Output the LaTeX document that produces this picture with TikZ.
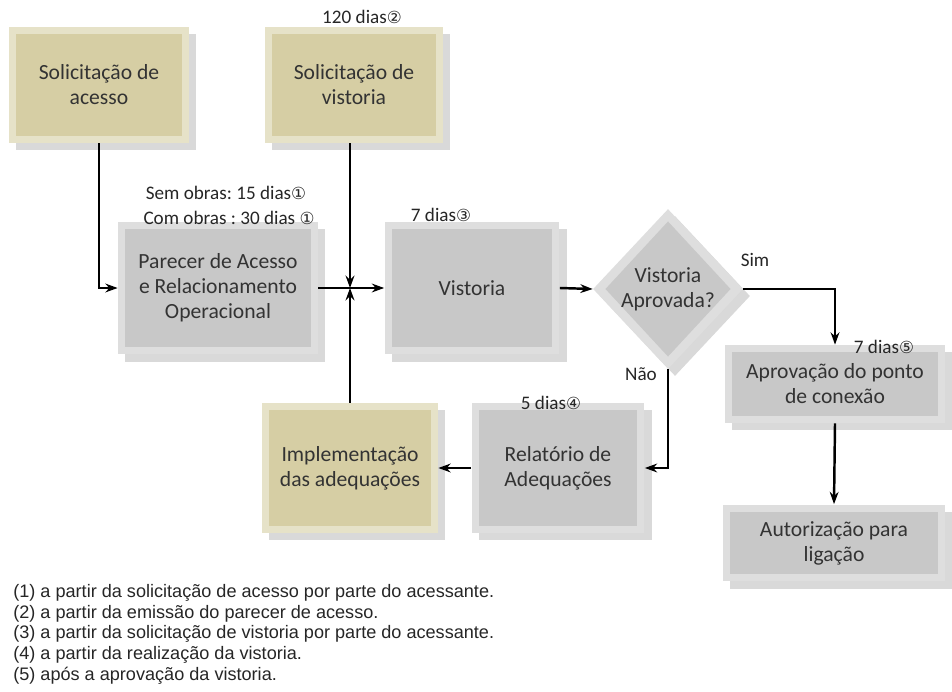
\documentclass[tikz,border=0pt]{standalone}
\usepackage{fontspec}
\setmainfont{Carlito}
\setsansfont{Liberation Sans}
\newfontfamily\symfont{DejaVu Sans}
\usetikzlibrary{shapes.geometric,shadows,arrows.meta}

\definecolor{khaki}{RGB}{214,206,164}
\definecolor{greybox}{RGB}{200,200,200}

\newcommand{\cnum}[1]{{\symfont\fontsize{9.5}{10}\selectfont #1}}

\tikzset{
  x=0.02cm, y=-0.02cm,
  stepbox/.style={fill=#1!60!white, align=center, inner sep=0pt,
    font=\fontsize{12.3}{14.2}\selectfont, text=black!80,
    drop shadow={opacity=0.3, shadow xshift=4pt, shadow yshift=-4pt},
    path picture={\fill[#1] ([shift={(4pt,4pt)}]path picture bounding box.south west)
      rectangle ([shift={(-4pt,-4pt)}]path picture bounding box.north east);}},
  decision/.style={diamond, fill=greybox!60!white, align=center, inner sep=0pt,
    font=\fontsize{12.3}{14.2}\selectfont, text=black!80,
    drop shadow={opacity=0.3, shadow xshift=4pt, shadow yshift=-4pt},
    path picture={\fill[greybox] ([shift={(0,-7pt)}]path picture bounding box.north)
      -- ([shift={(-7pt,0)}]path picture bounding box.east)
      -- ([shift={(0,7pt)}]path picture bounding box.south)
      -- ([shift={(7pt,0)}]path picture bounding box.west) -- cycle;}},
  tag/.style={font=\fontsize{10.9}{12}\selectfont, text=black!85, inner sep=1pt},
  arr/.style={line width=1.4pt, -{Stealth[length=7pt,width=5pt]}}
}

\begin{document}
\frenchspacing
\begin{tikzpicture}
\useasboundingbox (0,0) rectangle (952,692);

% boxes
\node[stepbox=khaki, minimum width=3.6cm, minimum height=2.32cm] (acesso) at (99,85) {Solicitação de\\acesso};
\node[stepbox=khaki, minimum width=3.56cm, minimum height=2.32cm] (solvist) at (354,85) {Solicitação de\\vistoria};
\node[stepbox=greybox, minimum width=4cm, minimum height=2.66cm] (parecer) at (218,288) {Parecer de Acesso\\e Relacionamento\\Operacional};
\node[stepbox=greybox, minimum width=3.5cm, minimum height=2.66cm] (vistoria) at (472,288) {Vistoria};
\node[decision, minimum width=3cm, minimum height=3.2cm] (aprov) at (668,289) {Vistoria\\Aprovada?};
\node[stepbox=greybox, minimum width=4.4cm, minimum height=1.56cm] (ponto) at (835,384) {Aprovação do ponto\\de conexão};
\node[stepbox=greybox, minimum width=4.44cm, minimum height=1.54cm] (autoriz) at (834,543) {Autorização para\\ligação};
\node[stepbox=greybox, minimum width=3.46cm, minimum height=2.6cm] (relat) at (558,468) {Relatório de\\Adequações};
\node[stepbox=khaki, minimum width=3.52cm, minimum height=2.6cm] (implem) at (350,468) {Implementação\\das adequações};

% prazos
\node[tag] (t120) at (362,17) {120 dias\cnum{②}};
\node[tag] (tsem) at (226,193) {Sem obras: 15 dias\cnum{①}};
\node[tag] (tcom) at (229,218) {Com obras : 30 dias \cnum{①}};
\node[tag] (t7a) at (441,215) {7 dias\cnum{③}};
\node[tag] (t5) at (551,403) {5 dias\cnum{④}};
\node[tag] (t7b) at (884,347) {7 dias\cnum{⑤}};
\node[tag] (tsim) at (755,260) {Sim};
\node[tag] (tnao) at (641,374) {Não};

% ligacoes
\coordinate (j) at (350,288);
\draw[arr] (acesso.south) |- (parecer.west);
\draw[arr] (solvist.south -| j) -- (j);
\draw[arr] (implem.north) -- (j);
\draw[arr] (parecer.east) -- (vistoria.west);
\draw[arr] (vistoria.east) -- (aprov.west);
\draw[arr] (aprov.east) -| (ponto.north);
\draw[arr] (aprov.south) |- (relat.east);
\draw[arr] (relat.west) -- (implem.east);
\draw[arr] (ponto.south) -- (autoriz.north);

% notas
\node[anchor=north west, align=left, inner sep=0pt, text=black!85,
  font=\sffamily\fontsize{10.3}{11.8}\selectfont] (notas) at (13,584)
  {(1) a partir da solicitação de acesso por parte do acessante.\\
   (2) a partir da emissão do parecer de acesso.\\
   (3) a partir da solicitação de vistoria por parte do acessante.\\
   (4) a partir da realização da vistoria.\\
   (5) após a aprovação da vistoria.};
\end{tikzpicture}
\end{document}
